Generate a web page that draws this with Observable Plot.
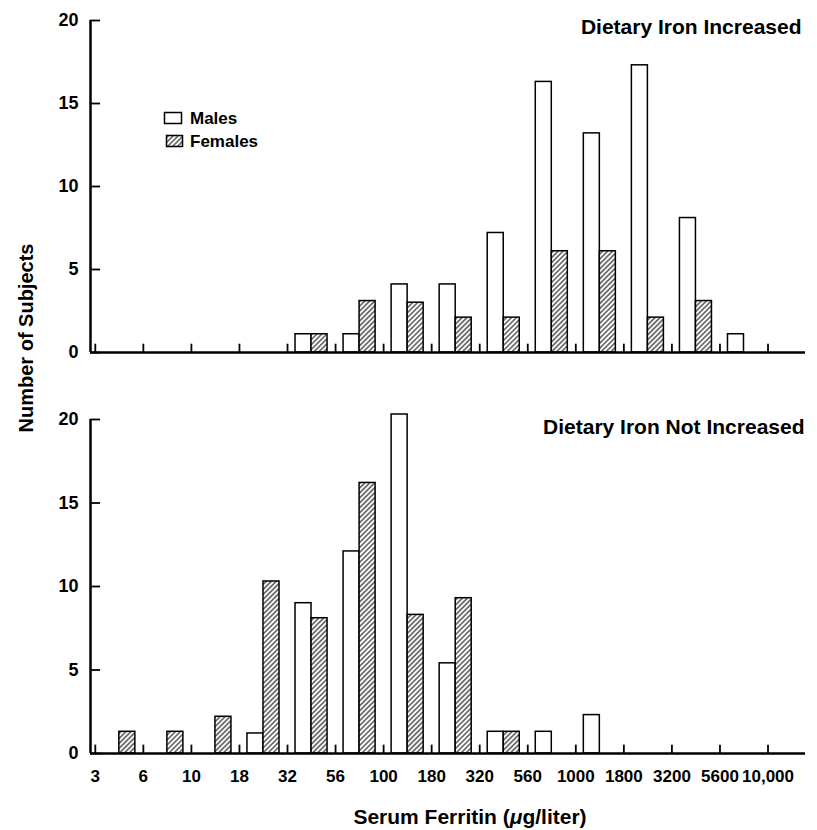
<!DOCTYPE html>
<html><head><meta charset="utf-8">
<script src="https://cdn.jsdelivr.net/npm/d3@7"></script>
<script src="https://cdn.jsdelivr.net/npm/@observablehq/plot@0.6"></script>
<style>
body{margin:0;background:#fff;}
#chart{position:relative;width:817px;height:830px;font-family:'Liberation Sans',Arial,Helvetica,sans-serif;font-weight:bold;color:#000;background:#fff;}
#chart svg{display:block;}
.ytitle{position:absolute;left:26px;top:338px;transform:translate(-50%,-50%) rotate(-90deg);font-size:20px;line-height:20px;white-space:nowrap;}
.xtitle{position:absolute;left:470px;top:806px;transform:translateX(-50%);font-size:21px;line-height:21px;white-space:nowrap;}
.legend{position:absolute;left:158px;top:104px;}
</style></head><body><div id="chart"></div>
<script>
// Tick labels at the bin boundaries (serum ferritin, µg/liter)
const tickLabels = ["3","6","10","18","32","56","100","180","320","560","1000","1800","3200","5600","10,000"];
// Bins between consecutive ticks
const bins = ["3–6","6–10","10–18","18–32","32–56","56–100","100–180","180–320","320–560","560–1000","1000–1800","1800–3200","3200–5600","5600–10,000"];
// Dietary iron increased
const increasedMales   = [0,0,0,0,1.1,1.1,4.1,4.1,7.2,16.3,13.2,17.3,8.1,1.1];
const increasedFemales = [0,0,0,0,1.1,3.1,3.0,2.1,2.1,6.1,6.1,2.1,3.1,0];
// Dietary iron not increased
const notIncreasedMales   = [0,0,0,1.2,9.0,12.1,20.3,5.4,1.3,1.3,2.3,0,0,0];
const notIncreasedFemales = [1.3,1.3,2.2,10.3,8.1,16.2,8.3,9.3,1.3,0,0,0,0,0];
const yTicks = [0,5,10,15,20];
const panelTitles = ["Dietary Iron Increased","Dietary Iron Not Increased"];

const tickIdx = tickLabels.map((d,i)=>i);
const xDomain = [-0.1, 14.78];
const FONT = "'Liberation Sans', Arial, Helvetica, sans-serif";

function rows(males, females){
  const out = [];
  bins.forEach((b,i)=>{
    if (males[i] > 0) out.push({bin:i, sex:"Males", count:males[i]});
    if (females[i] > 0) out.push({bin:i, sex:"Females", count:females[i]});
  });
  return out;
}

const HATCH = (id) => `<pattern id="${id}" patternUnits="userSpaceOnUse" width="3.5" height="3.5" patternTransform="rotate(45)"><rect width="3.5" height="3.5" fill="white"/><line x1="1.75" y1="-1" x2="1.75" y2="4.5" stroke="black" stroke-width="1"/></pattern>`;

function addHatch(svg, id){
  const ns = "http://www.w3.org/2000/svg";
  const defs = document.createElementNS(ns, "defs");
  defs.innerHTML = HATCH(id);
  svg.insertBefore(defs, svg.firstChild);
}

function panel({males, females, title, hatchId, height, marginTop, marginBottom, showLabels, titleDx, titleDy}){
  const data = rows(males, females);
  const svg = Plot.plot({
    width: 817, height, marginLeft: 90, marginRight: 12, marginTop, marginBottom,
    style: {fontFamily: FONT, fontSize: "18px", fontWeight: "bold", background: "white", color: "black", overflow: "visible"},
    x: showLabels
      ? {domain: xDomain, ticks: tickIdx, tickFormat: i => tickLabels[i], tickSize: 0, tickPadding: 16, label: null}
      : {domain: xDomain, axis: null},
    y: {domain: [0,20], ticks: yTicks, tickSize: 0, tickPadding: 12, label: null},
    marks: [
      Plot.rect(data, {
        x1: d => d.bin + (d.sex === "Males" ? 1/6 : 0.5),
        x2: d => d.bin + (d.sex === "Males" ? 0.5 : 5/6),
        y1: 0, y2: "count",
        fill: d => d.sex === "Males" ? "white" : `url(#${hatchId})`,
        stroke: "black", strokeWidth: 1.5
      }),
      Plot.ruleX(tickIdx, {x: d => d, y1: 0, y2: 0.5, stroke: "black", strokeWidth: 1.8}),
      Plot.ruleY(yTicks, {y: d => d, x1: xDomain[0], x2: xDomain[0] + 0.21, stroke: "black", strokeWidth: 1.8}),
      Plot.ruleY([0], {stroke: "black", strokeWidth: 2.5}),
      Plot.ruleX([xDomain[0]], {stroke: "black", strokeWidth: 2.5}),
      Plot.text([title], {frameAnchor: "top-right", textAnchor: "end", dx: titleDx, dy: titleDy, fontSize: 21, fontWeight: "bold", fontFamily: FONT, fill: "black"})
    ]
  });
  const el = svg.tagName.toLowerCase() === "svg" ? svg : svg.querySelector("svg");
  addHatch(el, hatchId);
  // slightly smaller x tick labels so 5600 and 10,000 do not collide
  el.querySelectorAll('g[aria-label^="x-axis"] text').forEach(t => { t.style.fontSize = "17px"; });
  return svg;
}

const chart = document.getElementById("chart");
chart.appendChild(panel({males: increasedMales, females: increasedFemales, title: panelTitles[0], hatchId: "hatchTop",
  height: 370, marginTop: 20, marginBottom: 18, showLabels: false, titleDx: -4, titleDy: -1}));
chart.appendChild(panel({males: notIncreasedMales, females: notIncreasedFemales, title: panelTitles[1], hatchId: "hatchBottom",
  height: 460, marginTop: 49, marginBottom: 77, showLabels: true, titleDx: -1, titleDy: 0}));

// Axis titles
const yt = document.createElement("div");
yt.className = "ytitle"; yt.textContent = "Number of Subjects";
chart.appendChild(yt);
const xt = document.createElement("div");
xt.className = "xtitle"; xt.innerHTML = "Serum Ferritin (<i>μ</i>g/liter)";
chart.appendChild(xt);

// Legend
const legend = document.createElement("div");
legend.className = "legend";
legend.innerHTML = `<svg width="120" height="50" style="overflow:visible">
<defs>${HATCH("hatchLegend")}</defs>
<rect x="6.5" y="8.5" width="17" height="11" fill="white" stroke="black" stroke-width="1.5"/>
<text x="32" y="20" font-family="${FONT}" font-weight="bold" font-size="17">Males</text>
<rect x="8.5" y="31.5" width="16" height="11" fill="url(#hatchLegend)" stroke="black" stroke-width="1.5"/>
<text x="32" y="43" font-family="${FONT}" font-weight="bold" font-size="17">Females</text>
</svg>`;
chart.appendChild(legend);
</script>
</body></html>
